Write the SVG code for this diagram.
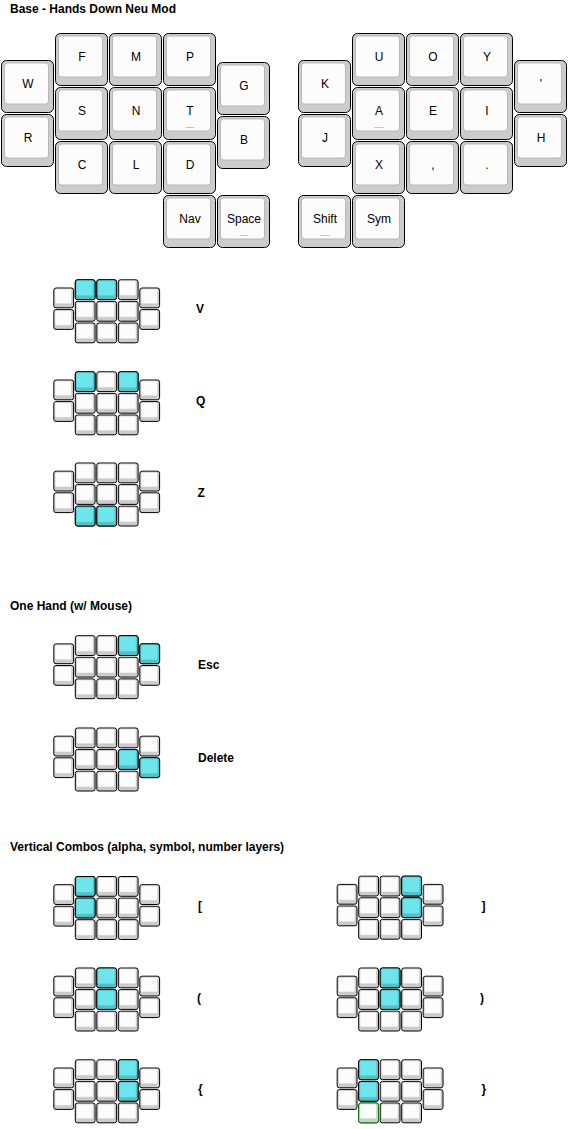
<svg xmlns="http://www.w3.org/2000/svg" width="571" height="1129" viewBox="0 0 571 1129">
<style>
.ko{fill:#cccccc;stroke:#000;stroke-width:1}
.ki{fill:#fcfcfc;stroke:#b8b8b8;stroke-width:1}
.lbl{font-family:"Liberation Sans",Arial,sans-serif;font-size:12px;fill:#000;text-anchor:middle}
.sub{font-family:"Liberation Sans",Arial,sans-serif;font-size:9px;fill:#999;text-anchor:middle}
.title{font-family:"Liberation Sans",Arial,sans-serif;font-size:12px;font-weight:bold;fill:#000}
.cl{font-family:"Liberation Sans",Arial,sans-serif;font-size:12px;font-weight:bold;fill:#000}
.mo{fill:#cccccc;stroke:#000;stroke-width:1}
.mi{fill:#fcfcfc;stroke:#c4c4c4;stroke-width:0.5}
.ho{fill:#56bfc6;stroke:#000;stroke-width:1}
.hi{fill:#6ce5ec;stroke:#5fcfd6;stroke-width:0.5}
.go{fill:#cccccc;stroke:#008000;stroke-width:1}
</style>
<defs>
<g id="bk"><rect class="ko" x="1.5" y="1.5" width="52" height="52" rx="5"/><rect class="ki" x="4.5" y="4" width="44" height="41" rx="3"/></g>
<g id="mk"><rect class="mo" x="0.5" y="0.5" width="19.8" height="19.8" rx="2.2"/><rect class="mi" x="1.7" y="1.5" width="16.6" height="14.8" rx="1.3"/></g>
<g id="mh"><rect class="ho" x="0.5" y="0.5" width="19.8" height="19.8" rx="2.2"/><rect class="hi" x="1.7" y="1.5" width="16.6" height="14.8" rx="1.3"/></g>
<g id="mg"><rect class="go" x="0.5" y="0.5" width="19.8" height="19.8" rx="2.2"/><rect class="mi" x="1.7" y="1.5" width="16.6" height="14.8" rx="1.3"/></g>
<g id="mini">
<use href="#mk" x="0" y="8.2"/><use href="#mk" x="0" y="29.8"/>
<use href="#mk" x="21.5" y="0"/><use href="#mk" x="21.5" y="21.6"/><use href="#mk" x="21.5" y="43.2"/>
<use href="#mk" x="43" y="0"/><use href="#mk" x="43" y="21.6"/><use href="#mk" x="43" y="43.2"/>
<use href="#mk" x="64.5" y="0"/><use href="#mk" x="64.5" y="21.6"/><use href="#mk" x="64.5" y="43.2"/>
<use href="#mk" x="86" y="8.2"/><use href="#mk" x="86" y="29.8"/>
</g>
</defs>
<rect x="0" y="0" width="571" height="1129" fill="#fff"/>

<text class="title" x="10" y="13">Base - Hands Down Neu Mod</text>
<text class="title" x="10" y="610">One Hand (w/ Mouse)</text>
<text class="title" x="10" y="851">Vertical Combos (alpha, symbol, number layers)</text>

<g id="base-layer">
<g id="key-W"><use href="#bk" x="0" y="59"/><text class="lbl" x="28" y="88">W</text></g>
<g id="key-R"><use href="#bk" x="0" y="113"/><text class="lbl" x="28" y="142">R</text></g>
<g id="key-F"><use href="#bk" x="54" y="32"/><text class="lbl" x="82" y="61">F</text></g>
<g id="key-S"><use href="#bk" x="54" y="86"/><text class="lbl" x="82" y="115">S</text></g>
<g id="key-C"><use href="#bk" x="54" y="140"/><text class="lbl" x="82" y="169">C</text></g>
<g id="key-M"><use href="#bk" x="108" y="32"/><text class="lbl" x="136" y="61">M</text></g>
<g id="key-N"><use href="#bk" x="108" y="86"/><text class="lbl" x="136" y="115">N</text></g>
<g id="key-L"><use href="#bk" x="108" y="140"/><text class="lbl" x="136" y="169">L</text></g>
<g id="key-P"><use href="#bk" x="162" y="32"/><text class="lbl" x="190" y="61">P</text></g>
<g id="key-T"><use href="#bk" x="162" y="86"/><text class="lbl" x="190" y="115">T</text><text class="sub" x="190" y="130">—</text></g>
<g id="key-D"><use href="#bk" x="162" y="140"/><text class="lbl" x="190" y="169">D</text></g>
<g id="key-G"><use href="#bk" x="216" y="61"/><text class="lbl" x="244" y="90">G</text></g>
<g id="key-B"><use href="#bk" x="216" y="115"/><text class="lbl" x="244" y="144">B</text></g>
<g id="key-Nav"><use href="#bk" x="162" y="194"/><text class="lbl" x="190" y="223">Nav</text></g>
<g id="key-Space"><use href="#bk" x="216" y="194"/><text class="lbl" x="244" y="223">Space</text><text class="sub" x="244" y="238">—</text></g>

<g id="key-K"><use href="#bk" x="297" y="59"/><text class="lbl" x="325" y="88">K</text></g>
<g id="key-J"><use href="#bk" x="297" y="113"/><text class="lbl" x="325" y="142">J</text></g>
<g id="key-U"><use href="#bk" x="351" y="32"/><text class="lbl" x="379" y="61">U</text></g>
<g id="key-A"><use href="#bk" x="351" y="86"/><text class="lbl" x="379" y="115">A</text><text class="sub" x="379" y="130">—</text></g>
<g id="key-X"><use href="#bk" x="351" y="140"/><text class="lbl" x="379" y="169">X</text></g>
<g id="key-O"><use href="#bk" x="405" y="32"/><text class="lbl" x="433" y="61">O</text></g>
<g id="key-E"><use href="#bk" x="405" y="86"/><text class="lbl" x="433" y="115">E</text></g>
<g id="key-comma"><use href="#bk" x="405" y="140"/><text class="lbl" x="433" y="169">,</text></g>
<g id="key-Y"><use href="#bk" x="459" y="32"/><text class="lbl" x="487" y="61">Y</text></g>
<g id="key-I"><use href="#bk" x="459" y="86"/><text class="lbl" x="487" y="115">I</text></g>
<g id="key-period"><use href="#bk" x="459" y="140"/><text class="lbl" x="487" y="169">.</text></g>
<g id="key-quote"><use href="#bk" x="513" y="59"/><text class="lbl" x="541" y="88">'</text></g>
<g id="key-H"><use href="#bk" x="513" y="113"/><text class="lbl" x="541" y="142">H</text></g>
<g id="key-Shift"><use href="#bk" x="297" y="194"/><text class="lbl" x="325" y="223">Shift</text><text class="sub" x="325" y="238">—</text></g>
<g id="key-Sym"><use href="#bk" x="351" y="194"/><text class="lbl" x="379" y="223">Sym</text></g>
</g>

<g id="combo-V"><g transform="translate(53.3,279.3)"><use href="#mini"/><use href="#mh" x="21.5" y="0"/><use href="#mh" x="43" y="0"/></g><text class="cl" x="196" y="313.3">V</text></g>
<g id="combo-Q"><g transform="translate(53.3,371.3)"><use href="#mini"/><use href="#mh" x="21.5" y="0"/><use href="#mh" x="64.5" y="0"/></g><text class="cl" x="196" y="405.3">Q</text></g>
<g id="combo-Z"><g transform="translate(53.3,462.5)"><use href="#mini"/><use href="#mh" x="21.5" y="43.2"/><use href="#mh" x="43" y="43.2"/></g><text class="cl" x="197.5" y="496.5">Z</text></g>

<g id="combo-Esc"><g transform="translate(53.3,635.2)"><use href="#mini"/><use href="#mh" x="64.5" y="0"/><use href="#mh" x="86" y="8.2"/></g><text class="cl" x="198" y="669.2">Esc</text></g>
<g id="combo-Delete"><g transform="translate(53.3,727.5)"><use href="#mini"/><use href="#mh" x="64.5" y="21.6"/><use href="#mh" x="86" y="29.8"/></g><text class="cl" x="198" y="761.5">Delete</text></g>

<g id="combo-lbracket"><g transform="translate(53.3,876)"><use href="#mini"/><use href="#mh" x="21.5" y="0"/><use href="#mh" x="21.5" y="21.6"/></g><text class="cl" x="198" y="910">[</text></g>
<g id="combo-rbracket"><g transform="translate(336.7,875.7)"><use href="#mini"/><use href="#mh" x="64.5" y="0"/><use href="#mh" x="64.5" y="21.6"/></g><text class="cl" x="481.5" y="909.7">]</text></g>
<g id="combo-lparen"><g transform="translate(53.3,967.5)"><use href="#mini"/><use href="#mh" x="43" y="0"/><use href="#mh" x="43" y="21.6"/></g><text class="cl" x="197" y="1001.5">(</text></g>
<g id="combo-rparen"><g transform="translate(336.7,967.5)"><use href="#mini"/><use href="#mh" x="43" y="0"/><use href="#mh" x="43" y="21.6"/></g><text class="cl" x="480" y="1001.5">)</text></g>
<g id="combo-lbrace"><g transform="translate(53.3,1059.3)"><use href="#mini"/><use href="#mh" x="64.5" y="0"/><use href="#mh" x="64.5" y="21.6"/></g><text class="cl" x="198" y="1093.3">{</text></g>
<g id="combo-rbrace"><g transform="translate(336.7,1059.3)"><use href="#mini"/><use href="#mh" x="21.5" y="0"/><use href="#mh" x="21.5" y="21.6"/><use href="#mg" x="21.5" y="43.2"/></g><text class="cl" x="481.5" y="1093.3">}</text></g>

<g id="connectors"/>
</svg>
